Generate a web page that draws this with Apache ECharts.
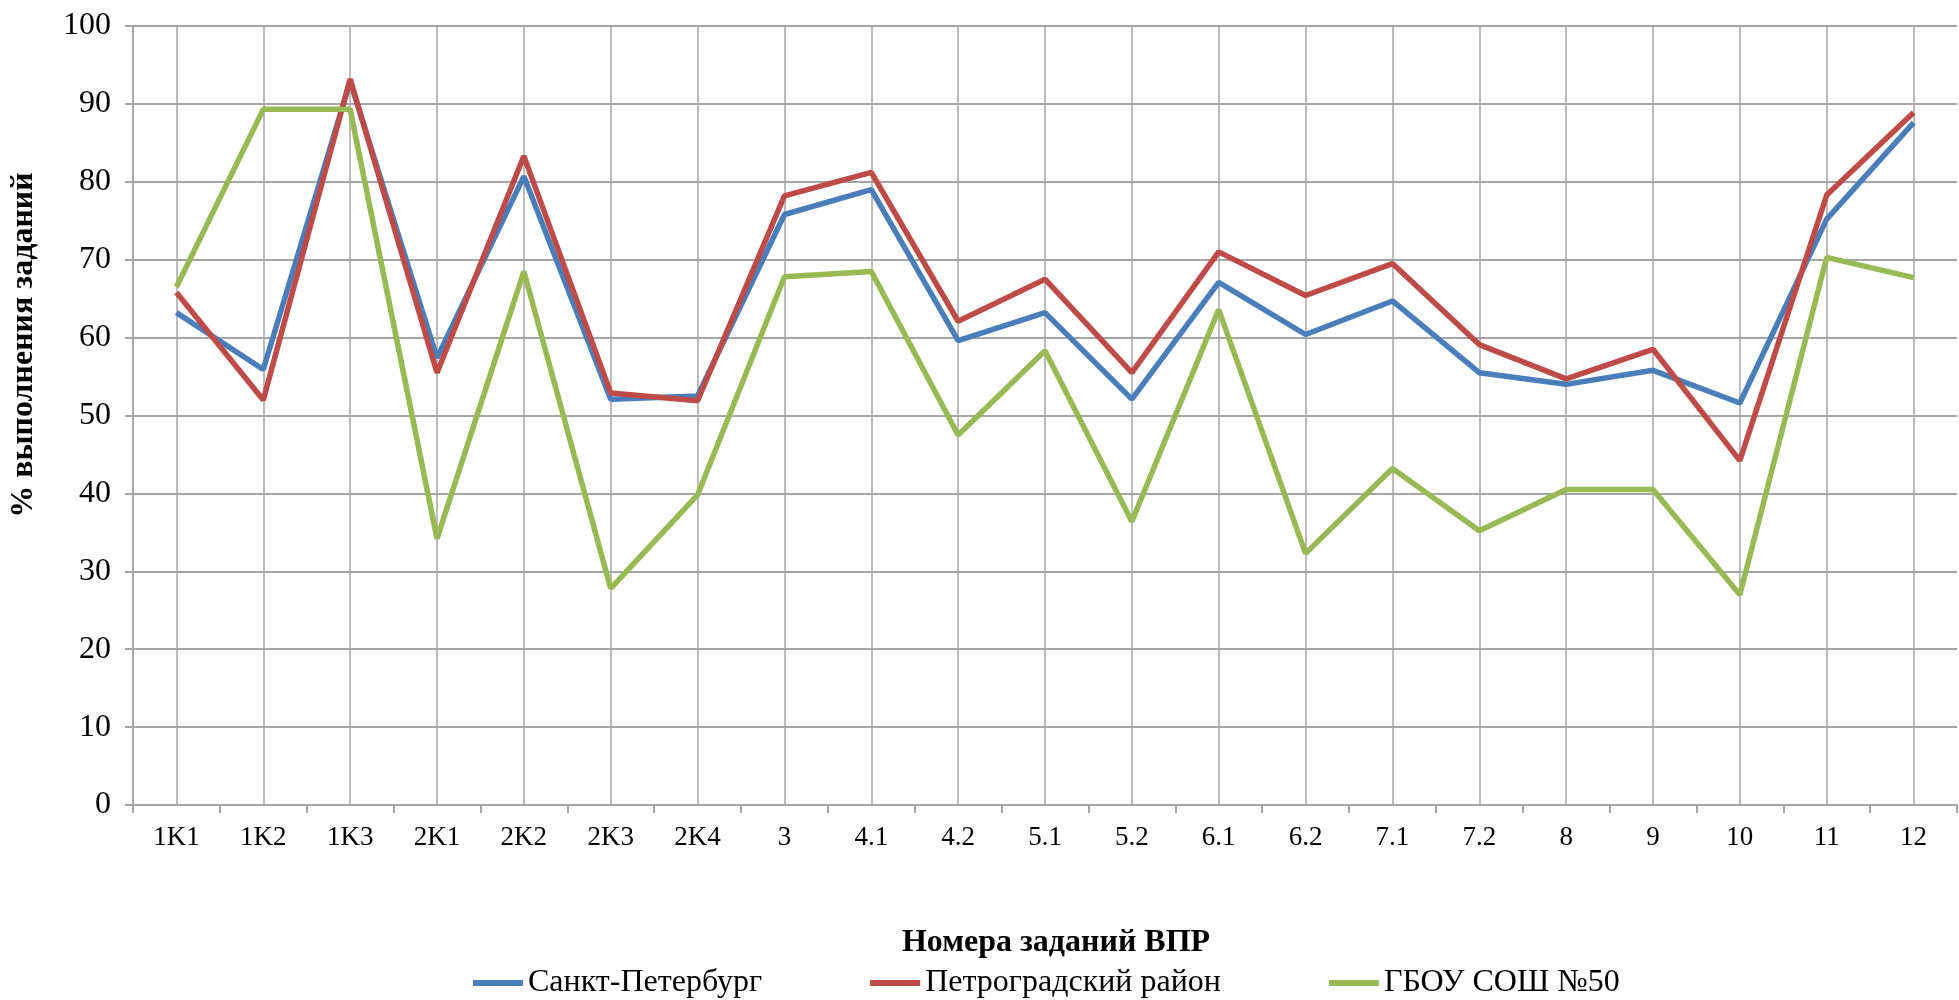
<!DOCTYPE html>
<html>
<head>
<meta charset="utf-8">
<script src="https://cdn.jsdelivr.net/npm/echarts@6/dist/echarts.min.js"></script>
<style>
    html, body { margin: 0; padding: 0; background: #fff; }
    #chart { width: 1959px; height: 1000px; }
</style>
</head>
<body>
<div id="chart"></div>
<script>
// номера заданий
var categories = ['1K1', '1K2', '1K3', '2K1', '2K2', '2K3', '2K4', '3', '4.1', '4.2', '5.1',
    '5.2', '6.1', '6.2', '7.1', '7.2', '8', '9', '10', '11', '12'];
var seriesNames = ['Санкт-Петербург', 'Петроградский район', 'ГБОУ СОШ №50'];
var spbValues = [63.2, 55.9, 92.9, 57.4, 80.7, 52.1, 52.5, 75.8, 79.0, 59.6, 63.2,
    52.1, 67.1, 60.4, 64.7, 55.5, 54.0, 55.8, 51.6, 75.2, 87.6];
var districtValues = [65.8, 52.0, 93.2, 55.5, 83.3, 52.9, 51.9, 78.2, 81.2, 62.1, 67.5,
    55.5, 71.0, 65.4, 69.5, 59.1, 54.7, 58.5, 44.2, 78.3, 88.9];
var schoolValues = [66.5, 89.3, 89.3, 34.2, 68.5, 27.8, 39.8, 67.8, 68.5, 47.5, 58.3,
    36.4, 63.6, 32.3, 43.2, 35.2, 40.5, 40.5, 27.0, 70.3, 67.7];
var yTicks = { min: 0, max: 100, interval: 10 };

var colors = ['#4a7ebb', '#be4b48', '#98b954'];
var gridColor = '#a6a6a6';
var fontName = '"Liberation Serif", "Times New Roman", serif';

var chart = echarts.init(document.getElementById('chart'));

var lineSeries = [spbValues, districtValues, schoolValues].map(function (vals, i) {
    return {
        name: seriesNames[i],
        type: 'line',
        data: vals,
        symbol: 'none',
        smooth: false,
        lineStyle: { width: 5.5, color: colors[i] },
        itemStyle: { color: colors[i] }
    };
});

chart.setOption({
    animation: false,
    backgroundColor: '#fff',
    color: colors,
    grid: {
        left: 133,
        right: 2,
        top: 26,
        bottom: 195,
        containLabel: false
    },
    legend: {
        data: seriesNames,
        top: 962,
        left: 468,
        icon: 'rect',
        itemWidth: 50,
        itemHeight: 6,
        itemGap: 108,
        textStyle: { fontFamily: fontName, fontSize: 32, color: '#000' }
    },
    xAxis: {
        type: 'category',
        data: categories,
        boundaryGap: true,
        name: 'Номера заданий ВПР',
        nameLocation: 'middle',
        nameGap: 122,
        nameTextStyle: { fontFamily: fontName, fontSize: 32, fontWeight: 'bold', color: '#000', padding: [0, 0, 0, 22] },
        axisLine: { lineStyle: { color: gridColor, width: 2 } },
        axisTick: { show: true, length: 8, lineStyle: { color: gridColor, width: 2 } },
        axisLabel: { fontFamily: fontName, fontSize: 27, color: '#000', margin: 19, interval: 0 },
        splitLine: { show: true, alignWithLabel: true, lineStyle: { color: gridColor, width: 1.5 } }
    },
    yAxis: {
        type: 'value',
        min: yTicks.min,
        max: yTicks.max,
        interval: yTicks.interval,
        axisLine: { show: true, lineStyle: { color: gridColor, width: 2 } },
        axisTick: { show: true, length: 8, lineStyle: { color: gridColor, width: 2 } },
        axisLabel: { fontFamily: fontName, fontSize: 32, color: '#000', margin: 22 },
        splitLine: { show: true, lineStyle: { color: gridColor, width: 2 } }
    },
    graphic: [{
        type: 'text',
        x: 24,
        y: 345,
        rotation: Math.PI / 2,
        style: {
            text: '% выполнения заданий',
            font: 'bold 32px ' + fontName,
            fill: '#000',
            align: 'center',
            verticalAlign: 'middle'
        }
    }],
    series: lineSeries
});
</script>
</body>
</html>
